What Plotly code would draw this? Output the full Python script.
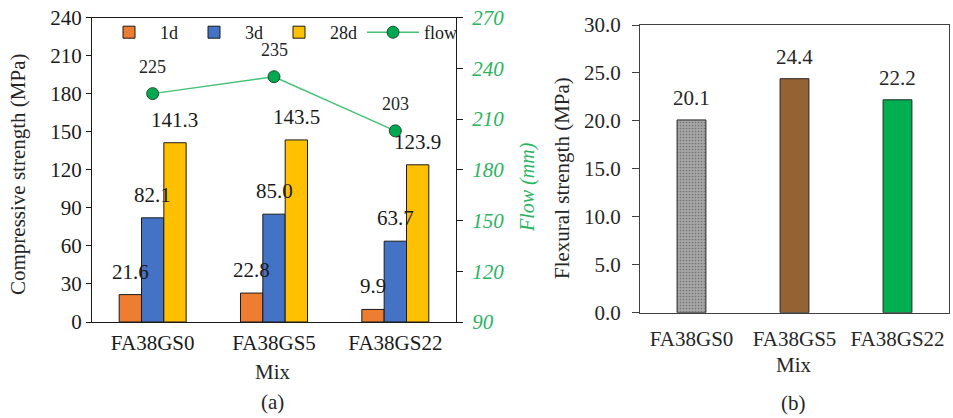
import plotly.graph_objects as go

# ---- data ----
mixes = ["FA38GS0", "FA38GS5", "FA38GS22"]
cs_1d = [21.6, 22.8, 9.9]
cs_3d = [82.1, 85.0, 63.7]
cs_28d = [141.3, 143.5, 123.9]
flow = [225, 235, 203]
flexural = [20.1, 24.4, 22.2]
cs_ticks = [0, 30, 60, 90, 120, 150, 180, 210, 240]
flow_ticks = [90, 120, 150, 180, 210, 240, 270]
flex_ticks = [0, 5, 10, 15, 20, 25, 30]

FONT = "Liberation Serif, Times New Roman, serif"
W, H = 953, 418
BARGAP_A = 0.448
FLEX_WIDTH = 0.28
GREEN_TXT = "#2BB35F"

fig = go.Figure()

series = [("1d", cs_1d, "#ED7D31"), ("3d", cs_3d, "#4472C4"), ("28d", cs_28d, "#FFC000")]
for name, vals, col in series:
    fig.add_bar(x=mixes, y=vals, name=name, xaxis="x", yaxis="y",
                marker=dict(color=col, line=dict(color="#1a1a1a", width=1)))

fig.add_scatter(x=mixes, y=flow, name="flow", xaxis="x", yaxis="y2",
                mode="lines+markers",
                line=dict(color="#45C276", width=1.5),
                marker=dict(color="#00A84F", size=12, line=dict(color="#1d4d2c", width=1)))

flex_colors = ["#A6A6A6", "#956233", "#00B050"]
fig.add_bar(x=mixes, y=flexural, name="flexural", xaxis="x2", yaxis="y3",
            width=FLEX_WIDTH, showlegend=False,
            marker=dict(color=flex_colors, line=dict(color="#262626", width=1),
                        pattern=dict(shape=[".", "", ""], size=3, solidity=0.25,
                                     fgcolor="#8f8f8f", fillmode="overlay")))

annotations = []
# bar value labels, panel (a)
bw = (1 - BARGAP_A) / len(series)
for k, (name, vals, col) in enumerate(series):
    for i, v in enumerate(vals):
        annotations.append(dict(x=i + (k - 1) * bw, y=v, xref="x", yref="y",
                                text=f"{v:.1f}", showarrow=False, yanchor="middle",
                                yshift=23, font=dict(size=21, color="#1a1a1a")))
# flow labels
for i, v in enumerate(flow):
    annotations.append(dict(x=i, y=v, xref="x", yref="y2", text=str(v), showarrow=False,
                            yanchor="middle", yshift=27, font=dict(size=18, color="#262626")))
# flexural labels
for i, v in enumerate(flexural):
    annotations.append(dict(x=i, y=v, xref="x2", yref="y3", text=f"{v:.1f}", showarrow=False,
                            yanchor="middle", yshift=22, font=dict(size=21, color="#262626")))

def ptxt(text, px, py, **kw):
    d = dict(text=text, x=px / W, y=1 - py / H, xref="paper", yref="paper",
             showarrow=False, xanchor="center", yanchor="middle",
             font=dict(size=21, color="#262626"))
    d.update(kw)
    return d

annotations += [
    ptxt("Compressive strength (MPa)", 18, 175, textangle=-90),
    ptxt("Flow (mm)", 527, 187, textangle=-90,
         font=dict(size=20, color=GREEN_TXT, style="italic")),
    ptxt("Flexural strength (MPa)", 562, 178, textangle=-90),
    ptxt("Mix", 273, 372),
    ptxt("(a)", 272, 402),
    ptxt("Mix", 794, 365),
    ptxt("(b)", 793, 403),
]

tickfont = dict(size=21, color="#1a1a1a", family=FONT)

fig.update_layout(
    width=W, height=H,
    margin=dict(l=0, r=0, t=0, b=0, autoexpand=False),
    paper_bgcolor="white", plot_bgcolor="white",
    font=dict(family=FONT, color="#1a1a1a"),
    barmode="group", bargap=BARGAP_A, bargroupgap=0,
    showlegend=True,
    legend=dict(orientation="h", x=98 / W, y=1 - 14 / H, xanchor="left", yanchor="top",
                font=dict(size=18, family=FONT, color="#1a1a1a"), itemwidth=52,
                bgcolor="rgba(0,0,0,0)", traceorder="normal", valign="middle"),
    xaxis=dict(domain=[92 / W, 456 / W], anchor="y", type="category", automargin=False,
               showline=True, linecolor="#1a1a1a", linewidth=1, mirror=True,
               ticks="", tickfont=tickfont, ticklabelstandoff=2,
               showgrid=False, zeroline=False),
    yaxis=dict(domain=[1 - 322 / H, 1 - 17.5 / H], anchor="x", range=[0, 240], automargin=False,
               tickvals=cs_ticks, ticks="outside", ticklen=5, tickcolor="#1a1a1a",
               showline=True, linecolor="#1a1a1a", linewidth=1,
               tickfont=tickfont, showgrid=False, zeroline=False),
    yaxis2=dict(overlaying="y", side="right", anchor="x", range=[90, 270], automargin=False,
                tickvals=flow_ticks, ticks="outside", ticklen=6, tickcolor="#1a1a1a",
                showline=True, linecolor="#1a1a1a", linewidth=1, ticklabelstandoff=5,
                tickfont=dict(size=21, color=GREEN_TXT, family=FONT, style="italic"),
                showgrid=False, zeroline=False),
    xaxis2=dict(domain=[640 / W, 949 / W], anchor="y3", type="category", automargin=False,
                showline=True, linecolor="#404040", linewidth=1, mirror=True,
                ticks="", tickfont=dict(size=21, color="#262626", family=FONT),
                ticklabelstandoff=7, showgrid=False, zeroline=False),
    yaxis3=dict(domain=[1 - 312.7 / H, 1 - 25 / H], anchor="x2", range=[0, 30], automargin=False,
                tickvals=flex_ticks, tickformat=".1f", ticks="outside", ticklen=7,
                tickcolor="#404040", showline=True, linecolor="#404040", linewidth=1,
                mirror=True, tickfont=dict(size=21, color="#262626", family=FONT),
                ticklabelstandoff=7, showgrid=False, zeroline=False),
    annotations=annotations,
)

fig.write_html("out.html", config={"displayModeBar": False},
               post_script="document.body.style.margin='0px';")
